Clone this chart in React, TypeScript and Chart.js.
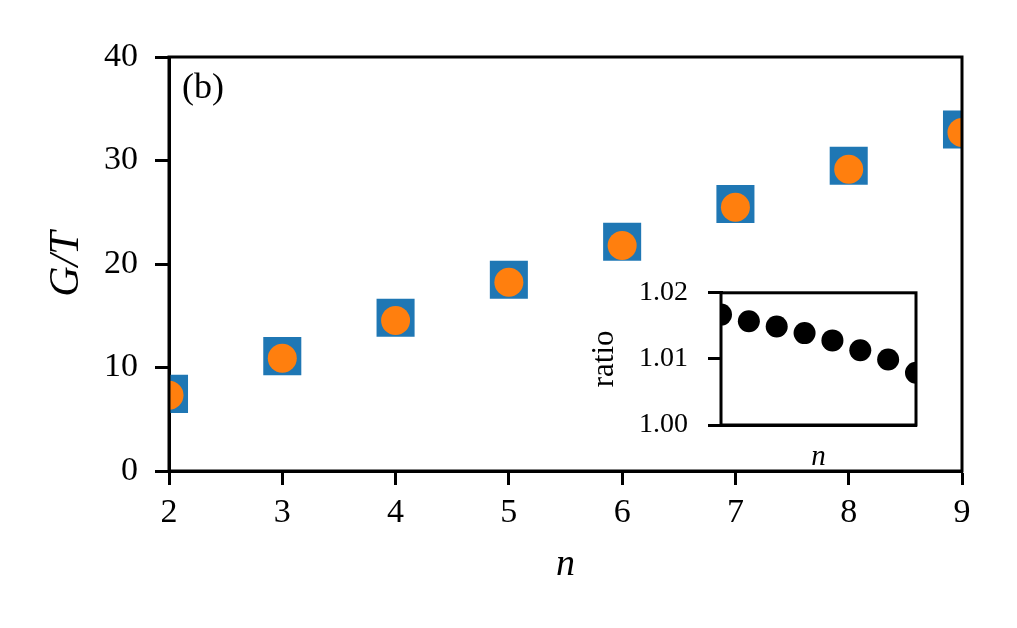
import React, { useEffect, useRef } from 'react';
import { Chart, registerables } from 'chart.js';

Chart.register(...registerables);

// Data
const nValues = [2, 3, 4, 5, 6, 7, 8, 9];
const exactValues = [7.45, 11.1, 14.8, 18.47, 22.14, 25.8, 29.49, 33.0];
const approxValues = [7.31, 10.89, 14.54, 18.23, 21.79, 25.49, 29.16, 32.7];
const ratioValues = [1.0167, 1.0157, 1.0149, 1.0139, 1.0128, 1.0113, 1.0099, 1.0079];
const mainYTicks = [0, 10, 20, 30, 40];
const insetYTicks = [1.0, 1.01, 1.02];

const SERIF = '"Liberation Serif", "DejaVu Serif", serif';
const BLUE = '#1f77b4';
const ORANGE = '#ff7f0e';

// draws the full box around the plot area (matplotlib spines) and an optional panel tag
const frameBox = (label?: string) => ({
  id: 'frameBox',
  beforeDatasetsDraw(chart: Chart) {
    const { ctx, chartArea: a } = chart;
    if (label === undefined) {
      ctx.save();
      ctx.fillStyle = '#fff';
      ctx.fillRect(a.left, a.top, a.right - a.left, a.bottom - a.top);
      ctx.restore();
    }
  },
  afterDatasetsDraw(chart: Chart) {
    const { ctx, chartArea: a } = chart;
    ctx.save();
    ctx.strokeStyle = '#000';
    ctx.lineWidth = 3;
    ctx.strokeRect(a.left, a.top, a.right - a.left, a.bottom - a.top);
    if (label) {
      ctx.fillStyle = '#000';
      ctx.font = `36px ${SERIF}`;
      ctx.textBaseline = 'alphabetic';
      ctx.textAlign = 'left';
      ctx.fillText(label, a.left + 13, a.top + 41);
    }
    ctx.restore();
  },
});

const tickGrid = (len: number) => ({
  drawOnChartArea: false,
  drawTicks: true,
  tickLength: len,
  tickWidth: 3,
  tickColor: '#000',
});

const App: React.FC = () => {
  const mainRef = useRef<HTMLCanvasElement>(null);
  const insetRef = useRef<HTMLCanvasElement>(null);

  useEffect(() => {
    if (!mainRef.current || !insetRef.current) return;

    // Chart.js paints the first dataset last, so the circles go first to sit on top
    const main = new Chart(mainRef.current, {
      type: 'scatter',
      data: {
        datasets: [
          {
            data: nValues.map((n, i) => ({ x: n, y: approxValues[i] })),
            pointStyle: 'circle',
            pointRadius: 14.5,
            backgroundColor: ORANGE,
            borderWidth: 0,
            clip: 0,
          },
          {
            data: nValues.map((n, i) => ({ x: n, y: exactValues[i] })),
            pointStyle: 'rect',
            pointRadius: 26.9,
            backgroundColor: BLUE,
            borderWidth: 0,
            clip: 0,
          },
        ],
      },
      options: {
        animation: false,
        responsive: false,
        events: [],
        layout: { padding: { left: 0, top: 57, right: 55, bottom: 0 } },
        plugins: { legend: { display: false }, tooltip: { enabled: false } },
        scales: {
          x: {
            type: 'linear',
            min: 2,
            max: 9,
            afterFit: (s: any) => { s.height = 157; },
            afterBuildTicks: (s: any) => { s.ticks = nValues.map(v => ({ value: v })); },
            grid: tickGrid(14),
            border: { display: true, color: '#000', width: 3 },
            ticks: { color: '#000', padding: 8, font: { family: SERIF, size: 34 } },
            title: {
              display: true,
              text: 'n',
              color: '#000',
              font: { family: SERIF, size: 38, style: 'italic' },
              padding: { top: 0, bottom: 40 },
            },
          },
          y: {
            type: 'linear',
            min: 0,
            max: 40,
            afterFit: (s: any) => { s.width = 169; },
            afterBuildTicks: (s: any) => { s.ticks = mainYTicks.map(v => ({ value: v })); },
            grid: tickGrid(14),
            border: { display: true, color: '#000', width: 3 },
            ticks: { color: '#000', padding: 17, font: { family: SERIF, size: 34 } },
            title: {
              display: true,
              text: 'G/T',
              color: '#000',
              font: { family: SERIF, size: 42, style: 'italic' },
              padding: { top: 42, bottom: 0 },
            },
          },
        },
      },
      plugins: [frameBox('(b)')],
    });

    const inset = new Chart(insetRef.current, {
      type: 'scatter',
      data: {
        datasets: [
          {
            data: nValues.map((n, i) => ({ x: n, y: ratioValues[i] })),
            pointStyle: 'circle',
            pointRadius: 11,
            backgroundColor: '#000',
            borderWidth: 0,
            clip: 0,
          },
        ],
      },
      options: {
        animation: false,
        responsive: false,
        events: [],
        layout: { padding: { left: 0, top: 35, right: 14, bottom: 0 } },
        plugins: { legend: { display: false }, tooltip: { enabled: false } },
        scales: {
          x: {
            type: 'linear',
            min: 2,
            max: 9,
            afterFit: (s: any) => { s.height = 55; },
            grid: { display: false },
            border: { display: true, color: '#000', width: 3 },
            ticks: { display: false },
            title: {
              display: true,
              text: 'n',
              color: '#000',
              font: { family: SERIF, size: 29, style: 'italic' },
              padding: { top: 0, bottom: 5 },
            },
          },
          y: {
            type: 'linear',
            min: 1.0,
            max: 1.02,
            afterFit: (s: any) => { s.width = 151; },
            afterBuildTicks: (s: any) => { s.ticks = insetYTicks.map(v => ({ value: v })); },
            grid: tickGrid(13),
            border: { display: true, color: '#000', width: 3 },
            ticks: {
              color: '#000',
              padding: 20,
              font: { family: SERIF, size: 28 },
              callback: (v: any) => Number(v).toFixed(2),
            },
            title: {
              display: true,
              text: 'ratio',
              color: '#000',
              font: { family: SERIF, size: 31 },
              padding: { top: 16, bottom: 0 },
            },
          },
        },
      },
      plugins: [frameBox()],
    });

    return () => {
      main.destroy();
      inset.destroy();
    };
  }, []);

  return (
    <div style={{ position: 'absolute', left: 0, top: 0, width: 1017, height: 628, background: '#fff' }}>
      <canvas ref={mainRef} width={1017} height={628} style={{ position: 'absolute', left: 0, top: 0 }} />
      <canvas ref={insetRef} width={360} height={224} style={{ position: 'absolute', left: 570, top: 256 }} />
    </div>
  );
};

export default App;
